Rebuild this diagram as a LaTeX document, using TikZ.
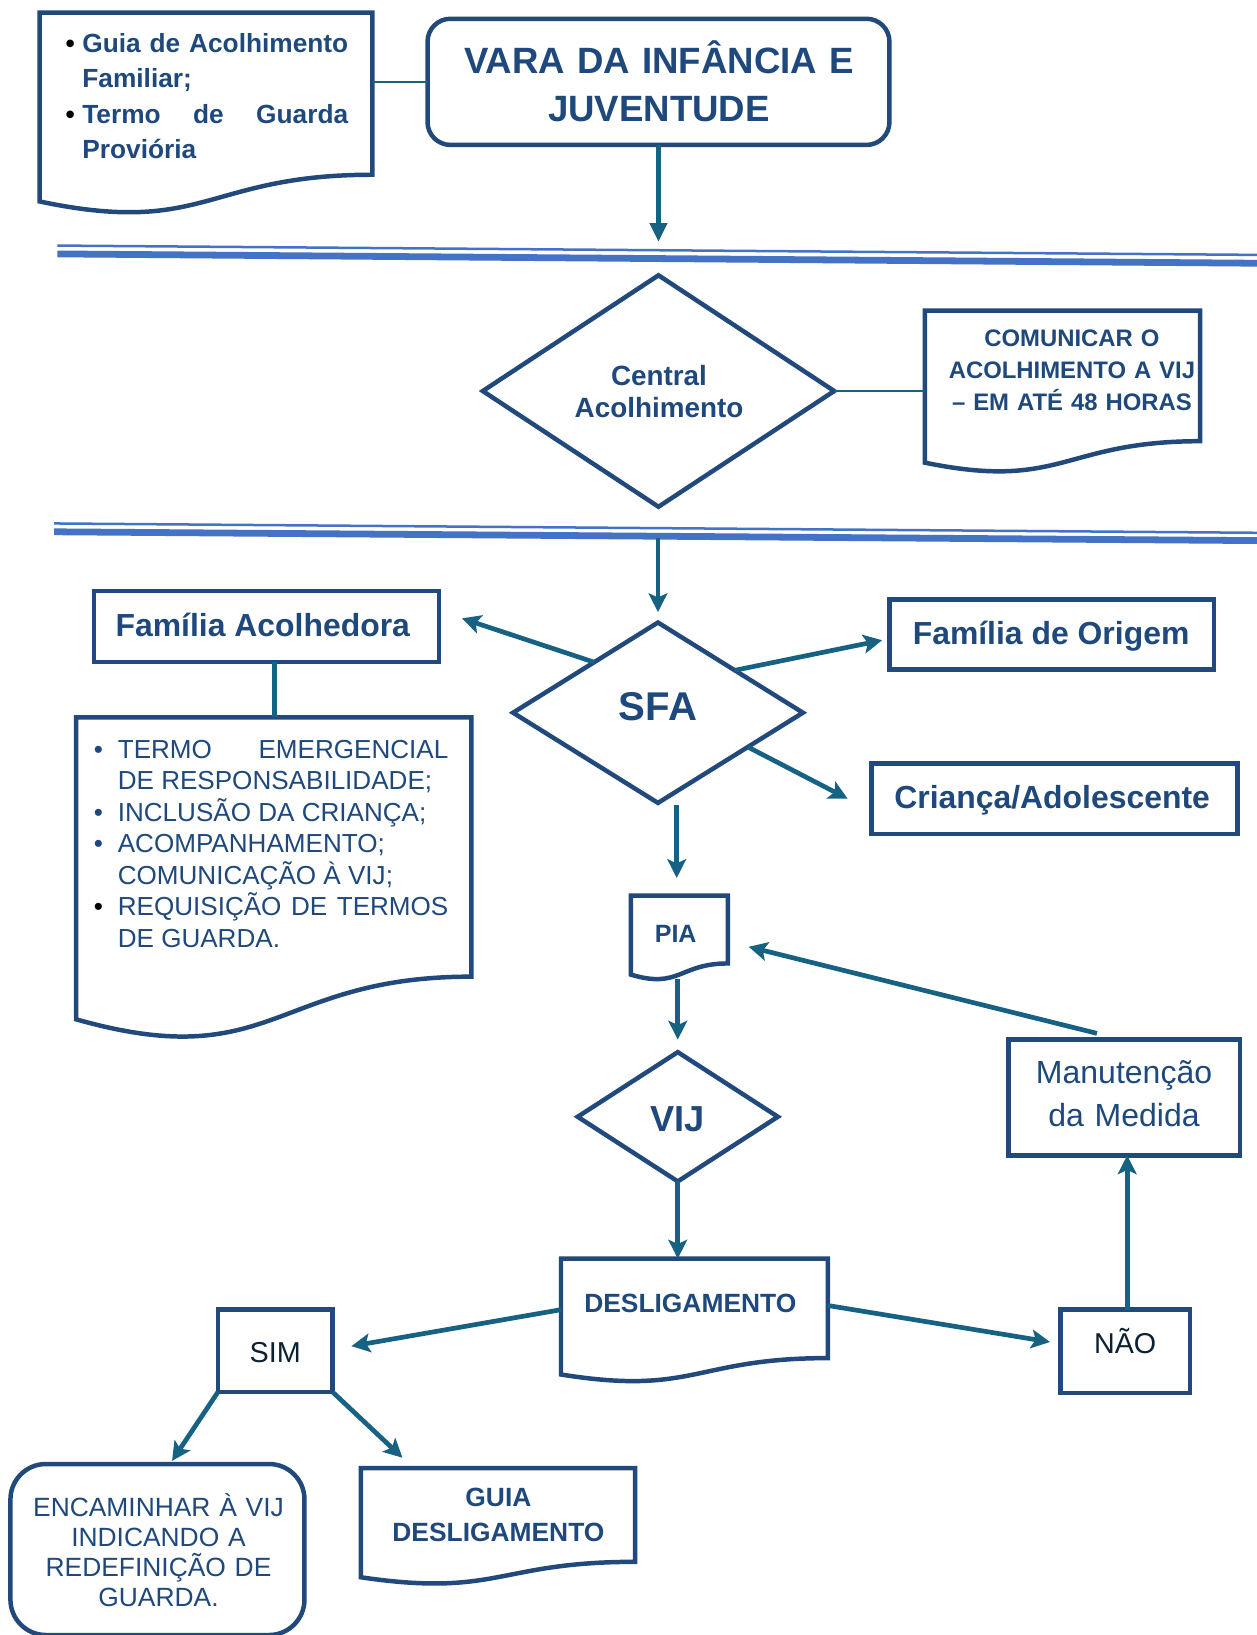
\documentclass[tikz,border=0pt]{standalone}
\usepackage{fontspec}
\setmainfont{Liberation Sans}
\usetikzlibrary{arrows.meta,calc,shapes.geometric}
\definecolor{boxblue}{HTML}{22497C}
\definecolor{txtblue}{HTML}{1F497D}
\definecolor{arrteal}{HTML}{176183}
\definecolor{lineblue}{HTML}{4472C4}
\definecolor{darktxt}{HTML}{0B2030}
\hyphenpenalty=10000
\exhyphenpenalty=10000
\tolerance=9999
\newcommand\fs[2]{\fontsize{#1pt}{#2pt}\selectfont}
\newcommand\bitem[3][txtblue]{\hangindent=#2 \hangafter=1 \noindent\hbox to #2{\textcolor{#1}{\char"2022}\hfil}#3\par}
\newcommand\docshape[5]{%
  \node[inner sep=0pt, outer sep=0pt, minimum width={(#4-#2)*1pt}, minimum height={#5*1pt}, anchor=north west] (#1) at (#2,#3) {};
  \draw[boxline] (#1.north west) -- (#1.north east) -- ($(#1.north east)+(0,0.802*#5)$) .. controls ($(#1.north)+(0,0.802*#5)$) and ($(#1.north)+(0,1.1075*#5)$) .. ($(#1.north west)+(0,0.934*#5)$) -- cycle;
}
\begin{document}
\begin{tikzpicture}[x=1pt,y=-1pt,
  boxnode/.style={draw=boxblue, line width=4.3pt, inner sep=0pt, outer sep=0pt},
  boxline/.style={draw=boxblue, line width=4.3pt, line join=miter},
  arr/.style={draw=arrteal, line width=4.5pt, -{Stealth[length=18pt,width=18pt,inset=4pt]}},
  arrtri/.style={draw=arrteal, line width=4.5pt, -{Triangle[length=18pt,width=16pt]}},
  link/.style={draw=arrteal, line width=1.3pt},
  linkthick/.style={draw=arrteal, line width=4.5pt},
  txt/.style={text=txtblue, inner sep=0pt, outer sep=0pt},
  sep/.style={draw=lineblue}]
\useasboundingbox (0,0) rectangle (1205,1568);
\fill[white] (0,0) rectangle (1205,1568);

% separators
\draw[sep, line width=2.4pt] (55,235.5) -- (1212,244.5);
\draw[sep, line width=6.5pt] (55,243.5) -- (1212,252.5);
\draw[sep, line width=2.4pt] (52,502) -- (1212,511);
\draw[sep, line width=6.5pt] (52,510) -- (1212,518.5);

% documents
\docshape{docA}{38}{12}{357}{194}
\docshape{docB}{887}{298}{1151}{156}
\docshape{docC}{73}{688}{452}{310}
\docshape{pia}{605}{859}{698}{81}
\docshape{desl}{538}{1207}{794}{119}
\docshape{guia}{346}{1408}{609}{112}

% boxes
\node[boxnode, rounded corners=22pt, minimum width=443pt, minimum height=121pt] (vara) at (631.5,78.5) {};
\node[boxnode, minimum width=331pt, minimum height=68pt] (famA) at (255.5,601) {};
\node[boxnode, minimum width=311pt, minimum height=67pt] (famO) at (1008.5,608.5) {};
\node[boxnode, minimum width=351pt, minimum height=68pt] (crianca) at (1011.5,766) {};
\node[boxnode, minimum width=222pt, minimum height=111pt] (manut) at (1078,1052.5) {};
\node[boxnode, minimum width=124pt, minimum height=80pt] (nao) at (1079,1296) {};
\node[boxnode, minimum width=110pt, minimum height=79pt] (sim) at (264,1295.5) {};
\node[boxnode, rounded corners=34pt, minimum width=282pt, minimum height=164pt] (encam) at (151,1486) {};
\node[boxnode, diamond, minimum width=337pt, minimum height=222pt] (central) at (631.5,375) {};
\node[boxnode, diamond, minimum width=278pt, minimum height=173pt] (sfa) at (631,683.5) {};
\node[boxnode, diamond, minimum width=192pt, minimum height=124pt] (vij) at (650,1071) {};

% texts
\node[txt, anchor=base west, text width=271pt, align=justify, font=\bfseries\fs{25.2}{34}] (docAtxt) at (63,50)
  {\bitem[black]{16pt}{Guia de Acolhimento Familiar;}\bitem[black]{16pt}{Termo de Guarda Proviória}};
\node[txt, anchor=base, text width=440pt, align=center, font=\bfseries\fs{35.1}{46}] (varatxt) at (632,70.6)
  {VARA DA INFÂNCIA E\\JUVENTUDE};
\node[txt, anchor=base, text width=250pt, align=center, font=\bfseries\fs{26.7}{31}] (centraltxt) at (632,369.6)
  {Central\\Acolhimento};
\node[txt, anchor=base, text width=260pt, align=center, font=\bfseries\fs{22.9}{31}] (docBtxt) at (1028,332)
  {COMUNICAR O\\ACOLHIMENTO A VIJ\\– EM ATÉ 48 HORAS};
\node[txt, anchor=base, font=\bfseries\fs{38.5}{40}] (sfatxt) at (631,690.8) {SFA};
\node[txt, anchor=base, font=\bfseries\fs{30.6}{34}] (famAtxt) at (252,610) {Família Acolhedora};
\node[txt, anchor=base, font=\bfseries\fs{30.6}{34}] (famOtxt) at (1008,618) {Família de Origem};
\node[txt, anchor=base, font=\bfseries\fs{30.6}{34}] (criancatxt) at (1009,775) {Criança/Adolescente};
\node[txt, anchor=base west, text width=340pt, align=justify, font=\fs{25}{30.2}] (docCtxt) at (90,727)
  {\bitem{23pt}{TERMO EMERGENCIAL\linebreak DE RESPONSABILIDADE;}\bitem{23pt}{INCLUSÃO DA CRIANÇA;}\bitem{23pt}{ACOMPANHAMENTO;\newline COMUNICAÇÃO À VIJ;}\bitem[black]{23pt}{REQUISIÇÃO DE TERMOS DE GUARDA.}};
\node[txt, anchor=base, font=\bfseries\fs{24}{28}] (piatxt) at (648,903.6) {PIA};
\node[txt, anchor=base, font=\bfseries\fs{34.7}{38}] (vijtxt) at (650,1085.4) {VIJ};
\node[txt, anchor=base, font=\bfseries\fs{25.3}{30}] (desltxt) at (662,1259) {DESLIGAMENTO};
\node[txt, anchor=base, text width=220pt, align=center, font=\fs{30.7}{41}] (manuttxt) at (1078,1039)
  {Manutenção\\da Medida};
\node[txt, anchor=base, text=darktxt, font=\fs{27.5}{30}] (naotxt) at (1079,1297.8) {NÃO};
\node[txt, anchor=base, text=darktxt, font=\fs{27.6}{30}] (simtxt) at (264,1307) {SIM};
\node[txt, anchor=base, text width=280pt, align=center, font=\fs{25.3}{29}] (encamtxt) at (152,1454)
  {ENCAMINHAR À VIJ\\INDICANDO A\\REDEFINIÇÃO DE\\GUARDA.};
\node[txt, anchor=base, text width=260pt, align=center, font=\bfseries\fs{25.3}{33}] (guiatxt) at (478,1445)
  {GUIA\\DESLIGAMENTO};

% connectors
\coordinate (varaend) at (631.5,232);
\coordinate (sep2) at (631,516);
\draw[link] (docA.north east |- vara.west) -- (vara.west);
\draw[arrtri] (vara.south) -- (varaend);
\draw[link] (central.east) -- (central.east -| docB.north west);
\draw[arr] (sep2) -- ($(sfa.north)+(0,-10)$);
\draw[arr] ($(sfa.north)!0.44!(sfa.west)$) -- ($(famA.east)+(22,-8)$);
\draw[arr] ($(sfa.north)!0.53!(sfa.east)$) -- ($(famO.west)+(-7,5.5)$);
\draw[arr] ($(sfa.east)!0.38!(sfa.south)$) -- ($(crianca.west)+(-23,0)$);
\draw[arr] ($(sfa.south)+(18,2)$) -- ($(pia.north)+(-2.5,-17)$);
\draw[arr] ($(pia.north)+(-1.5,80)$) -- ($(vij.north)+(0,-12)$);
\draw[arr] (vij.south) -- (desl.north -| vij.south);
\draw[arr] ($(manut.north)+(-26,-6)$) -- ($(pia.north east)+(20,49)$);
\draw[arr] ($(desl.north east)+(0,45)$) -- ($(nao.west)+(-10,-9)$);
\draw[arr] ($(nao.north)+(2,0)$) -- ($(manut.south)+(3,0)$);
\draw[arr] ($(desl.north west)+(0,49)$) -- ($(sim.east)+(18,-4.5)$);
\draw[arr] (sim.south west) -- ($(encam.north)+(14,-3)$);
\draw[arr] (sim.south east) -- ($(guia.north west)+(40,-10)$);
\draw[linkthick] ($(famA.south)+(7.5,0)$) -- ($(famA.south |- docC.north)+(7.5,0)$);
\end{tikzpicture}
\end{document}
